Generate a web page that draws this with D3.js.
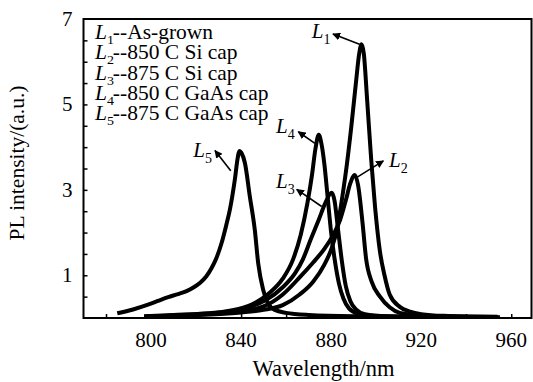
<!DOCTYPE html>
<html>
<head>
<meta charset="utf-8">
<script src="https://cdn.jsdelivr.net/npm/d3@7"></script>
<style>
  body { margin: 0; background: #fff; }
  svg text { font-family: "Liberation Serif", "Times New Roman", serif; fill: #000; }
</style>
</head>
<body>
<div id="chart"></div>
<script>
// PL spectra: [wavelength nm, intensity a.u.]
const curveL1 = [[797, 0.03], [810, 0.05], [825, 0.08], [840, 0.13], [850, 0.19], [858.5, 0.3], [866, 0.55],
  [872, 0.85], [877, 1.25], [880, 1.6], [882.5, 2.05], [885, 2.85], [887, 3.6], [889, 4.5], [891, 5.5],
  [892.5, 6.2], [893.5, 6.41], [894.5, 6.2], [896, 5.1], [897.8, 3.7], [899.5, 2.6], [901.7, 1.55],
  [903.7, 1.0], [906, 0.55], [910.5, 0.26], [915, 0.15], [920, 0.09], [930, 0.05], [954, 0.03]];
const curveL2 = [[797, 0.03], [810, 0.05], [825, 0.09], [840, 0.16], [850, 0.27], [858.5, 0.55], [866, 0.95],
  [872, 1.3], [877, 1.62], [881, 1.95], [884, 2.3], [886.5, 2.75], [888.5, 3.15], [890.5, 3.35], [892, 3.1],
  [894, 2.2], [895.5, 1.4], [898, 0.85], [901.7, 0.5], [906, 0.25], [910.5, 0.12], [920, 0.06], [940, 0.03]];
const curveL3 = [[797, 0.03], [810, 0.06], [825, 0.1], [835, 0.15], [845, 0.28], [851, 0.42], [858.5, 0.72],
  [864, 1.05], [867.5, 1.38], [871, 1.85], [874.5, 2.3], [877.5, 2.7], [880.2, 2.93], [881.5, 2.75],
  [883, 2.1], [884.7, 1.36], [886.5, 0.75], [888.5, 0.4], [891, 0.2], [895, 0.09], [905, 0.04], [925, 0.02]];
const curveL4 = [[797, 0.04], [810, 0.07], [825, 0.11], [835, 0.17], [845, 0.32], [852, 0.56], [858.5, 0.92],
  [863, 1.36], [866.5, 1.95], [869.5, 2.7], [871.5, 3.35], [873, 3.95], [874.5, 4.29], [875.8, 4.05],
  [877, 3.6], [878.5, 2.8], [880, 2.0], [881.6, 1.36], [883.5, 0.8], [885.5, 0.45], [888, 0.22],
  [892, 0.1], [900, 0.04], [920, 0.02]];
const curveL5 = [[785, 0.11], [792, 0.2], [798, 0.3], [803, 0.4], [807.6, 0.49], [812, 0.56], [815.8, 0.63],
  [819, 0.72], [821.7, 0.82], [824.5, 0.97], [826.9, 1.17], [829, 1.4], [831.3, 1.75], [833.3, 2.15],
  [835, 2.53], [837.2, 3.23], [838.5, 3.75], [839.2, 3.91], [840.3, 3.85], [841.7, 3.63], [843.9, 2.84],
  [846.1, 2.06], [847.6, 1.28], [849.8, 0.66], [852, 0.34], [855, 0.19], [860, 0.12], [870, 0.07],
  [890, 0.04], [920, 0.03], [955, 0.02]];

const series = [curveL5, curveL4, curveL3, curveL2, curveL1];

const legendItems = [
  ["1", "--As-grown"],
  ["2", "--850 C Si cap"],
  ["3", "--875 C Si cap"],
  ["4", "--850 C GaAs cap"],
  ["5", "--875 C GaAs cap"]
];

// peak labels: subscript, text position (nm, value), arrow tail (on curve), arrow head (near label)
const peakLabels = [
  { sub: "1", x: 871.4, y: 6.56, x1: 892.6, y1: 6.41, x2: 880.8, y2: 6.65 },
  { sub: "2", x: 905.7, y: 3.54, x1: 890.7, y1: 3.27, x2: 903.2, y2: 3.68 },
  { sub: "3", x: 855.5, y: 3.04, x1: 875.8, y1: 2.61, x2: 864.7, y2: 3.01 },
  { sub: "4", x: 855.5, y: 4.32, x1: 872.8, y1: 4.09, x2: 865.4, y2: 4.36 },
  { sub: "5", x: 818.8, y: 3.78, x1: 835.4, y1: 3.45, x2: 828.4, y2: 3.92 }
];

const xTickLabels = [800, 840, 880, 920, 960];
const yTickLabels = [1, 3, 5, 7];
const xMinorTicks = d3.range(780, 970, 20);
const yMinorTicks = d3.range(0.5, 7, 0.5);

const W = 533, H = 382;
const margin = { top: 19, right: 1.5, bottom: 64, left: 83.5 };
const width = W - margin.left - margin.right,
      height = H - margin.top - margin.bottom;

const root = d3.select("#chart").append("svg")
  .attr("width", W).attr("height", H);

root.append("defs").append("clipPath").attr("id", "clip")
  .append("rect").attr("width", width).attr("height", height);

root.select("defs").append("marker")
  .attr("id", "arrow")
  .attr("viewBox", "0 0 10 10")
  .attr("refX", 9).attr("refY", 5)
  .attr("markerWidth", 8).attr("markerHeight", 8)
  .attr("markerUnits", "userSpaceOnUse")
  .attr("orient", "auto")
  .append("path").attr("d", "M0,0 L10,5 L0,10 z").attr("fill", "#000");

const svg = root.append("g").attr("transform", `translate(${margin.left},${margin.top})`);

const xScale = d3.scaleLinear().domain([770, 969]).range([0, width]);
const yScale = d3.scaleLinear().domain([0, 7]).range([height, 0]);

// inward ticks
const xAxis = d3.axisBottom(xScale).tickValues(xMinorTicks).tickSize(-4).tickFormat("");
const yAxis = d3.axisLeft(yScale).tickValues(yMinorTicks).tickSize(-4).tickFormat("");

svg.append("g").attr("transform", `translate(0,${height})`).call(xAxis)
  .call(g => g.select(".domain").remove())
  .selectAll("line").attr("stroke-width", 1.5);
svg.append("g").call(yAxis)
  .call(g => g.select(".domain").remove())
  .selectAll("line").attr("stroke-width", 1.5);

// tick labels
svg.selectAll(".xlab").data(xTickLabels).enter().append("text")
  .attr("class", "xlab")
  .attr("x", d => xScale(d))
  .attr("y", height + 29)
  .attr("text-anchor", "middle")
  .attr("font-size", 21)
  .text(d => d);

svg.selectAll(".ylab").data(yTickLabels).enter().append("text")
  .attr("class", "ylab")
  .attr("x", -11)
  .attr("y", d => yScale(d) + 7)
  .attr("text-anchor", "end")
  .attr("font-size", 21)
  .text(d => d);

// curves
const line = d3.line()
  .x(d => xScale(d[0]))
  .y(d => yScale(d[1]))
  .curve(d3.curveMonotoneX);

svg.append("g").attr("clip-path", "url(#clip)")
  .selectAll("path").data(series).enter().append("path")
  .attr("d", line)
  .attr("fill", "none")
  .attr("stroke", "#000")
  .attr("stroke-width", 4)
  .attr("stroke-linejoin", "round");

// frame
svg.append("rect")
  .attr("width", width).attr("height", height)
  .attr("fill", "none").attr("stroke", "#000").attr("stroke-width", 2);

// legend (font is a bit wider than its height in the original, so stretch horizontally)
const legend = svg.append("g").attr("transform", "translate(11.5,20.3) scale(1.075,1)");
legendItems.forEach((d, i) => {
  const t = legend.append("text").attr("x", 0).attr("y", i * 20.2).attr("font-size", 20);
  t.append("tspan").attr("font-style", "italic").text("L");
  t.append("tspan").attr("font-size", 13).attr("dy", 5).text(d[0]);
  t.append("tspan").attr("dy", -5).attr("dx", -1).text(d[1]);
});

// peak labels with arrows
const ann = svg.append("g");
ann.selectAll("line").data(peakLabels).enter().append("line")
  .attr("x1", d => xScale(d.x1)).attr("y1", d => yScale(d.y1))
  .attr("x2", d => xScale(d.x2)).attr("y2", d => yScale(d.y2))
  .attr("stroke", "#000").attr("stroke-width", 1.6)
  .attr("marker-end", "url(#arrow)");

peakLabels.forEach(d => {
  const t = ann.append("text").attr("x", xScale(d.x)).attr("y", yScale(d.y)).attr("font-size", 21);
  t.append("tspan").attr("font-style", "italic").text("L");
  t.append("tspan").attr("font-size", 14).attr("dy", 6).text(d.sub);
});

// axis titles
svg.append("text")
  .attr("x", 240).attr("y", height + 58)
  .attr("text-anchor", "middle").attr("font-size", 22.5)
  .text("Wavelength/nm");

svg.append("text")
  .attr("transform", `translate(${23.5 - margin.left},${144}) rotate(-90)`)
  .attr("text-anchor", "middle").attr("font-size", 21.5)
  .text("PL intensity/(a.u.)");
</script>
</body>
</html>
